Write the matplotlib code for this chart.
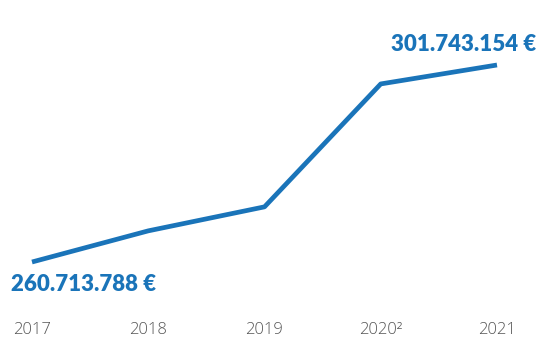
import matplotlib
matplotlib.use("Agg")
import matplotlib.pyplot as plt

years = ["2017", "2018", "2019", "2020", "2021"]
tick_labels = ["2017", "2018", "2019", "2020²", "2021"]
values = [260713788, 267200000, 272200000, 297800000, 301743154]
first_label = "260.713.788 €"
last_label = "301.743.154 €"

blue = "#1a74b9"
grey = "#555555"

W, H = 541, 339
fig = plt.figure(figsize=(W / 100, H / 100), dpi=100)
ax = fig.add_axes([32 / W, (H - 262) / H, 465 / W, 197 / H])
x = list(range(len(years)))
ax.plot(x, values, color=blue, lw=3.4, solid_capstyle="butt", clip_on=False)
ax.set_xlim(0, len(years) - 1)
ax.set_ylim(values[0], values[-1])
for s in ax.spines.values():
    s.set_visible(False)
ax.set_yticks([])
ax.set_xticks(x)
ax.set_xticklabels(tick_labels, fontfamily="Open Sans", fontweight="light", fontsize=12, color=grey)
ax.tick_params(axis="x", length=0, pad=43)

ax.annotate(first_label, (x[0], values[0]), xytext=(-15, -16), textcoords="offset points",
            ha="left", va="center", fontfamily="Lato", fontweight="heavy", fontsize=16, color=blue,
            annotation_clip=False)
ax.annotate(last_label, (x[-1], values[-1]), xytext=(28, 15), textcoords="offset points",
            ha="right", va="center", fontfamily="Lato", fontweight="heavy", fontsize=16, color=blue,
            annotation_clip=False)

fig.savefig("out.png", dpi=100, facecolor="white")
